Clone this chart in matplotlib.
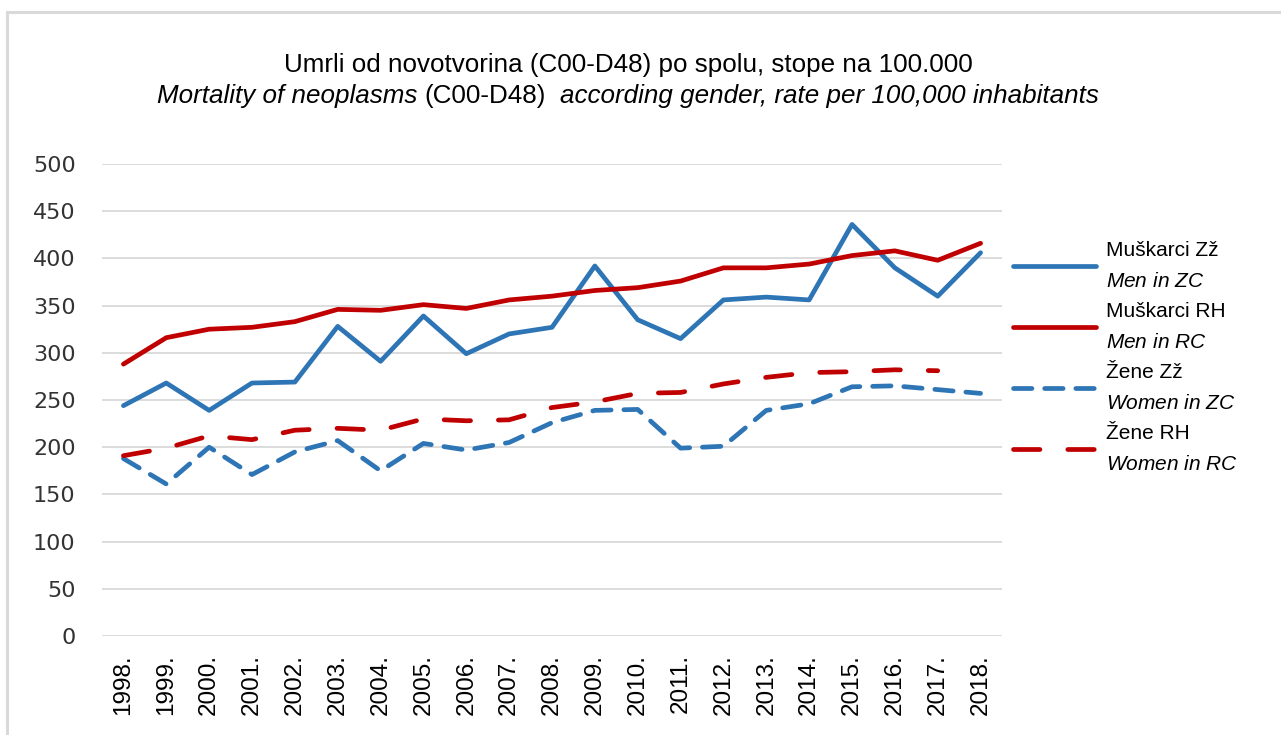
import numpy as np
import matplotlib
matplotlib.use('Agg')
import matplotlib.pyplot as plt
from matplotlib.patches import Rectangle

# data
years = ['1998.', '1999.', '2000.', '2001.', '2002.', '2003.', '2004.', '2005.', '2006.', '2007.',
         '2008.', '2009.', '2010.', '2011.', '2012.', '2013.', '2014.', '2015.', '2016.', '2017.', '2018.']
men_zc = [244, 268, 239, 268, 269, 328, 291, 339, 299, 320, 327, 392, 335, 315, 356, 359, 356, 436, 390, 360, 406]
men_rh = [288, 316, 325, 327, 333, 346, 345, 351, 347, 356, 360, 366, 369, 376, 390, 390, 394, 403, 408, 398, 416]
women_zc = [188, 161, 200, 171, 195, 207, 175, 204, 197, 205, 226, 239, 240, 199, 201, 239, 246, 264, 265, 261, 257]
women_rh = [191, 199, 212, 208, 218, 220, 218, 230, 228, 229, 242, 248, 257, 258, 267, 274, 279, 280, 282, 281, np.nan]

labels = ['Muškarci Zž\n$\\mathit{Men\\ in\\ ZC}$',
          'Muškarci RH\n$\\mathit{Men\\ in\\ RC}$',
          'Žene Zž\n$\\mathit{Women\\ in\\ ZC}$',
          'Žene RH\n$\\mathit{Women\\ in\\ RC}$']

title1 = 'Umrli od novotvorina (C00-D48) po spolu, stope na 100.000'
# second title line: (text, style, spaces after)
title2 = [('Mortality of neoplasms', 'italic', 1),
          ('(C00-D48)', 'normal', 2),
          ('according gender, rate per 100,000 inhabitants', 'italic', 0)]

blue = '#2E75B6'
red = '#C00000'

plt.rcParams['mathtext.fontset'] = 'custom'
plt.rcParams['mathtext.rm'] = 'Liberation Sans'
plt.rcParams['mathtext.it'] = 'Liberation Sans:italic'

W, H = 1281, 735
fig = plt.figure(figsize=(W / 100, H / 100), dpi=100)
ax = fig.add_axes([102 / W, 1 - 636 / H, 900 / W, 472 / H])

x = np.arange(len(years))
lw = 3.4
kw = dict(lw=lw, solid_capstyle='round', solid_joinstyle='round',
          dash_capstyle='round', dash_joinstyle='round', clip_on=False)
ax.plot(x, men_zc, color=blue, label=labels[0], **kw)
ax.plot(x, men_rh, color=red, label=labels[1], **kw)
ax.plot(x, women_zc, color=blue, linestyle=(0, (3.9, 2.7)), label=labels[2], **kw)
ax.plot(x, women_rh, color=red, linestyle=(0, (5.6, 5.9)), label=labels[3], **kw)

ax.set_xlim(-0.5, len(years) - 0.5)
ax.set_ylim(0, 500)
ax.set_yticks(np.arange(0, 501, 50))
ax.set_xticks(x)
ax.set_xticklabels(years, rotation=90, fontsize=17.5, family='Liberation Sans')
ax.tick_params(axis='x', length=0, pad=13)
ax.tick_params(axis='y', length=0, pad=19, labelsize=16, labelcolor='#333333')
ax.grid(axis='y', color='#D9D9D9', lw=1.3)
ax.set_axisbelow(True)
for s in ax.spines.values():
    s.set_visible(False)

tfont = dict(fontsize=18.7, family='Liberation Sans')
fig.text(628 / W, 1 - 65 / H, title1, ha='center', va='center', **tfont)

# lay out the mixed italic / upright second line piece by piece
r = fig.canvas.get_renderer()
def text_w(s, style):
    t = fig.text(0, 0, s, style=style, **tfont)
    w = t.get_window_extent(r).width
    t.remove()
    return w
space = text_w('a a', 'italic') - text_w('aa', 'italic')
widths = [text_w(s, st) for s, st, n in title2]
total = sum(widths) + space * sum(n for s, st, n in title2)
xp = 628 - total / 2
for (s, st, n), w in zip(title2, widths):
    fig.text(xp / W, 1 - 96 / H, s, style=st, ha='left', va='center', **tfont)
    xp += w + n * space

leg = ax.legend(loc='upper left', bbox_to_anchor=(1013 / W, 1 - 241 / H), bbox_transform=fig.transFigure,
                frameon=False, handlelength=4.0, handletextpad=0.48, labelspacing=0.53,
                borderpad=0, borderaxespad=0, prop={'family': 'Liberation Sans', 'size': 15})
for t in leg.get_texts():
    t.set_linespacing(1.8)

# light chart border
fig.patches.append(Rectangle((6.5 / W, -0.1), 1.2, 1.1 - 12.5 / H, transform=fig.transFigure,
                             fill=False, ec='#D9D9D9', lw=2.2))

fig.savefig('out.png', dpi=100)
